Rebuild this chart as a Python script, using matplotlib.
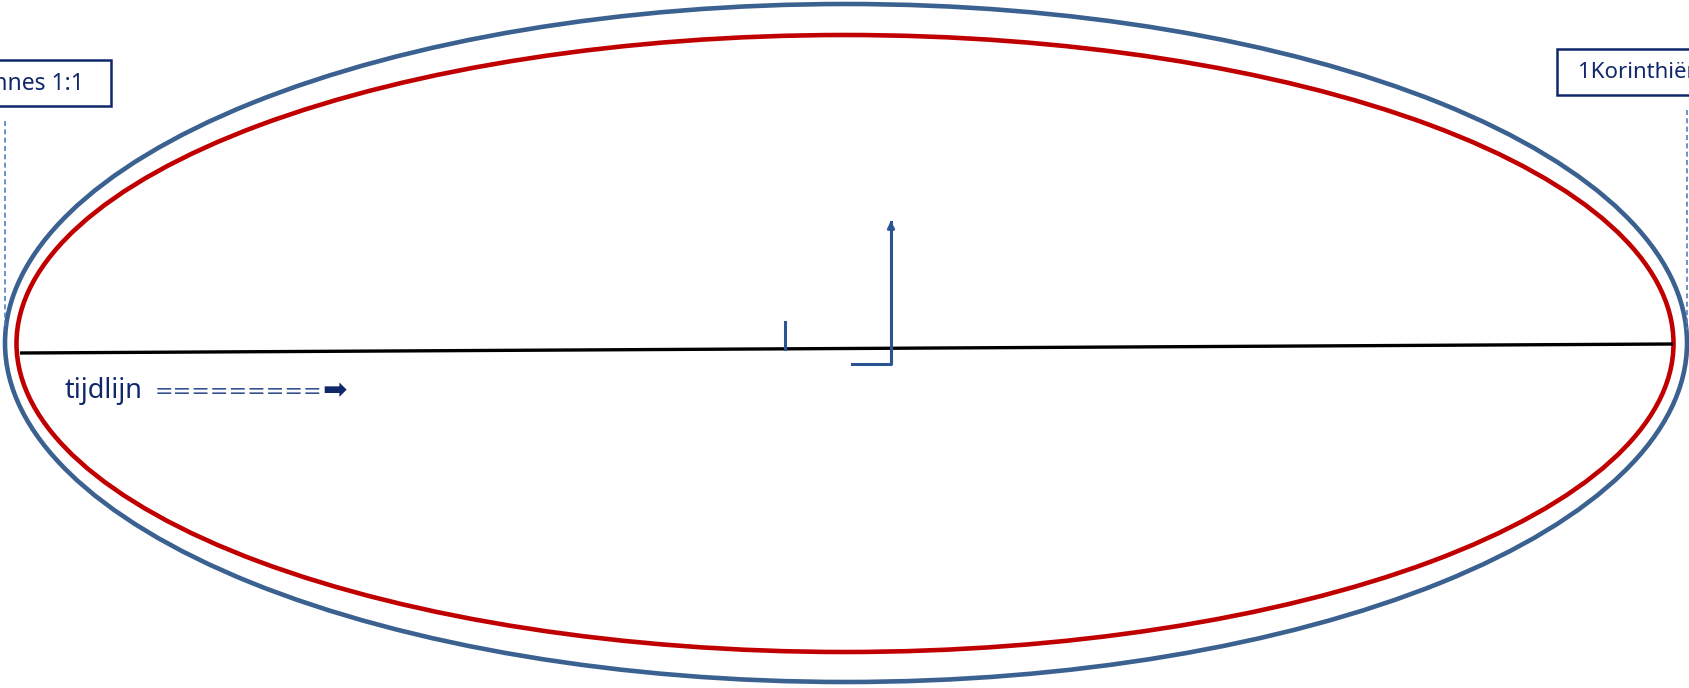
import matplotlib
matplotlib.use('Agg')
import matplotlib.pyplot as plt
from matplotlib.patches import Ellipse, Rectangle

# diagram geometry, in pixels of the 1690x688 picture (y down)
outer_ellipse = (846, 343, 1682, 678)   # cx, cy, width, height
inner_ellipse = (845, 343.5, 1657, 617)
timeline_x = [20, 1673]
timeline_y = [353, 344]
tick_x = [785, 785]
tick_y = [322, 349]
arrow_x = [852, 891, 891]
arrow_y = [364, 364, 222]
start_label = 'Johannes 1:1'
end_label = '1Korinthiërs 15:28'
start_box = (-40, 60, 151, 46)          # x, y, w, h
end_box = (1557, 49, 160, 46)
start_dash_x = [5, 5]
start_dash_y = [121, 330]
end_dash_x = [1687, 1687]
end_dash_y = [110, 330]
timeline_word = 'tijdlijn'
timeline_equals = '========='
arrow_glyph = '➡'

BLUE = '#3b6190'
RED = '#c00000'
NAVY = '#10286a'
STEEL = '#2a5592'
DASH = '#4f81bd'

fig = plt.figure(figsize=(16.9, 6.88), dpi=100)
ax = fig.add_axes([0, 0, 1, 1])
ax.set_xlim(0, 1690)
ax.set_ylim(688, 0)
ax.axis('off')

cx, cy, w, h = outer_ellipse
ax.add_patch(Ellipse((cx, cy), w, h, fill=False, edgecolor=BLUE, linewidth=3.3))
cx, cy, w, h = inner_ellipse
ax.add_patch(Ellipse((cx, cy), w, h, fill=False, edgecolor=RED, linewidth=3.3))

ax.plot(timeline_x, timeline_y, color='black', linewidth=2.4, solid_capstyle='butt')
ax.plot(tick_x, tick_y, color=STEEL, linewidth=2.2)
ax.plot(arrow_x, arrow_y, color=STEEL, linewidth=2.2)
ax.annotate('', xy=(arrow_x[-1], arrow_y[-1] - 4), xytext=(arrow_x[-1], arrow_y[-1] + 6),
            arrowprops=dict(arrowstyle='-|>', color=STEEL, lw=2.0, mutation_scale=10))

ax.plot(start_dash_x, start_dash_y, color=DASH, linewidth=1.2, linestyle=(0, (3, 2)))
ax.plot(end_dash_x, end_dash_y, color=DASH, linewidth=1.2, linestyle=(0, (3, 2)))

x, y, bw, bh = start_box
ax.add_patch(Rectangle((x, y), bw, bh, fill=True, facecolor='white', edgecolor=NAVY, linewidth=1.8))
ax.text(85, y + bh / 2, start_label, ha='right', va='center', fontsize=16.5,
        color=NAVY, family='Noto Sans')
x, y, bw, bh = end_box
ax.add_patch(Rectangle((x, y), bw, bh, fill=True, facecolor='white', edgecolor=NAVY, linewidth=1.8))
ax.text(1578, y + bh / 2, end_label, ha='left', va='center', fontsize=16,
        color=NAVY, family='Noto Sans')

ty = 391
ax.text(65, ty, timeline_word, ha='left', va='center', fontsize=19.5,
        color=NAVY, family='Noto Sans')
ax.text(155, ty + 1, timeline_equals, ha='left', va='center', fontsize=16,
        color='#33508f', family='DejaVu Sans')
ax.text(322, ty, arrow_glyph, ha='left', va='center', fontsize=21,
        color=NAVY, family='DejaVu Sans')

fig.savefig('out.png', dpi=100)
